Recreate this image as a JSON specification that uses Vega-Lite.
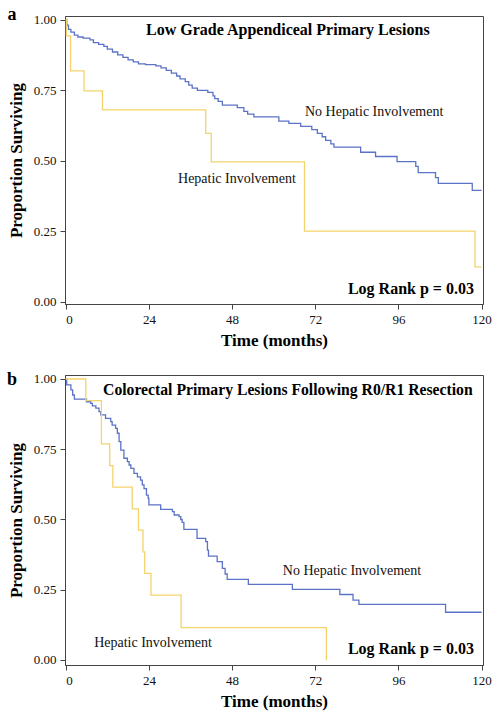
{
  "$schema": "https://vega.github.io/schema/vega-lite/v6.json",
  "padding": {"left": 6, "top": 5, "right": 5, "bottom": 5},
  "background": "white",
  "spacing": 21,
  "config": {
    "font": "Liberation Serif",
    "view": {"stroke": "#444", "strokeWidth": 1},
    "axis": {
      "grid": false,
      "labelFont": "Liberation Serif",
      "labelFontSize": 13,
      "labelColor": "#111",
      "titleFont": "Liberation Serif",
      "titleFontSize": 17,
      "titleFontWeight": "bold",
      "titleColor": "#000",
      "tickSize": 5,
      "tickColor": "#444",
      "domainColor": "#444",
      "labelPadding": 4
    },
    "axisY": {"titlePadding": 8},
    "axisX": {"titlePadding": 6}
  },
  "datasets": {
    "curves": [
      {"panel":"a","group":"No Hepatic Involvement","t":0,"s":1.0},
      {"panel":"a","group":"No Hepatic Involvement","t":0.3,"s":0.98},
      {"panel":"a","group":"No Hepatic Involvement","t":0.8,"s":0.965},
      {"panel":"a","group":"No Hepatic Involvement","t":1.5,"s":0.955},
      {"panel":"a","group":"No Hepatic Involvement","t":2.5,"s":0.945},
      {"panel":"a","group":"No Hepatic Involvement","t":3.5,"s":0.938},
      {"panel":"a","group":"No Hepatic Involvement","t":5,"s":0.934},
      {"panel":"a","group":"No Hepatic Involvement","t":7,"s":0.928},
      {"panel":"a","group":"No Hepatic Involvement","t":8,"s":0.918},
      {"panel":"a","group":"No Hepatic Involvement","t":9.5,"s":0.912},
      {"panel":"a","group":"No Hepatic Involvement","t":11,"s":0.905},
      {"panel":"a","group":"No Hepatic Involvement","t":12,"s":0.895},
      {"panel":"a","group":"No Hepatic Involvement","t":13.5,"s":0.885},
      {"panel":"a","group":"No Hepatic Involvement","t":15,"s":0.875},
      {"panel":"a","group":"No Hepatic Involvement","t":16.5,"s":0.866},
      {"panel":"a","group":"No Hepatic Involvement","t":18,"s":0.857},
      {"panel":"a","group":"No Hepatic Involvement","t":19.5,"s":0.85},
      {"panel":"a","group":"No Hepatic Involvement","t":21,"s":0.843},
      {"panel":"a","group":"No Hepatic Involvement","t":23,"s":0.84},
      {"panel":"a","group":"No Hepatic Involvement","t":26,"s":0.836},
      {"panel":"a","group":"No Hepatic Involvement","t":27.5,"s":0.829},
      {"panel":"a","group":"No Hepatic Involvement","t":29,"s":0.82},
      {"panel":"a","group":"No Hepatic Involvement","t":30.5,"s":0.81},
      {"panel":"a","group":"No Hepatic Involvement","t":32,"s":0.8},
      {"panel":"a","group":"No Hepatic Involvement","t":33,"s":0.79},
      {"panel":"a","group":"No Hepatic Involvement","t":34.5,"s":0.78},
      {"panel":"a","group":"No Hepatic Involvement","t":35.5,"s":0.768},
      {"panel":"a","group":"No Hepatic Involvement","t":36.5,"s":0.757},
      {"panel":"a","group":"No Hepatic Involvement","t":38,"s":0.749},
      {"panel":"a","group":"No Hepatic Involvement","t":41,"s":0.742},
      {"panel":"a","group":"No Hepatic Involvement","t":42.5,"s":0.73},
      {"panel":"a","group":"No Hepatic Involvement","t":43,"s":0.72},
      {"panel":"a","group":"No Hepatic Involvement","t":44,"s":0.71},
      {"panel":"a","group":"No Hepatic Involvement","t":45.2,"s":0.697},
      {"panel":"a","group":"No Hepatic Involvement","t":49.5,"s":0.688},
      {"panel":"a","group":"No Hepatic Involvement","t":51.4,"s":0.675},
      {"panel":"a","group":"No Hepatic Involvement","t":52.5,"s":0.665},
      {"panel":"a","group":"No Hepatic Involvement","t":54.3,"s":0.655},
      {"panel":"a","group":"No Hepatic Involvement","t":61.5,"s":0.64},
      {"panel":"a","group":"No Hepatic Involvement","t":64.4,"s":0.632},
      {"panel":"a","group":"No Hepatic Involvement","t":67.8,"s":0.622},
      {"panel":"a","group":"No Hepatic Involvement","t":71,"s":0.61},
      {"panel":"a","group":"No Hepatic Involvement","t":72.6,"s":0.597},
      {"panel":"a","group":"No Hepatic Involvement","t":74,"s":0.585},
      {"panel":"a","group":"No Hepatic Involvement","t":75,"s":0.572},
      {"panel":"a","group":"No Hepatic Involvement","t":76.5,"s":0.56},
      {"panel":"a","group":"No Hepatic Involvement","t":77.4,"s":0.548},
      {"panel":"a","group":"No Hepatic Involvement","t":85.1,"s":0.53},
      {"panel":"a","group":"No Hepatic Involvement","t":89.4,"s":0.515},
      {"panel":"a","group":"No Hepatic Involvement","t":95.6,"s":0.497},
      {"panel":"a","group":"No Hepatic Involvement","t":101,"s":0.48},
      {"panel":"a","group":"No Hepatic Involvement","t":101.7,"s":0.458},
      {"panel":"a","group":"No Hepatic Involvement","t":106.7,"s":0.44},
      {"panel":"a","group":"No Hepatic Involvement","t":107.5,"s":0.42},
      {"panel":"a","group":"No Hepatic Involvement","t":117.3,"s":0.395},
      {"panel":"a","group":"No Hepatic Involvement","t":120,"s":0.395},
      {"panel":"a","group":"Hepatic Involvement","t":0,"s":1.0},
      {"panel":"a","group":"Hepatic Involvement","t":0.2,"s":0.942},
      {"panel":"a","group":"Hepatic Involvement","t":1.4,"s":0.818},
      {"panel":"a","group":"Hepatic Involvement","t":5.3,"s":0.747},
      {"panel":"a","group":"Hepatic Involvement","t":10.6,"s":0.68},
      {"panel":"a","group":"Hepatic Involvement","t":40.4,"s":0.597},
      {"panel":"a","group":"Hepatic Involvement","t":42,"s":0.496},
      {"panel":"a","group":"Hepatic Involvement","t":68.9,"s":0.251},
      {"panel":"a","group":"Hepatic Involvement","t":118.1,"s":0.124},
      {"panel":"a","group":"Hepatic Involvement","t":120,"s":0.124},
      {"panel":"b","group":"No Hepatic Involvement","t":0,"s":1.0},
      {"panel":"b","group":"No Hepatic Involvement","t":0.3,"s":0.979},
      {"panel":"b","group":"No Hepatic Involvement","t":1.5,"s":0.961},
      {"panel":"b","group":"No Hepatic Involvement","t":2,"s":0.943},
      {"panel":"b","group":"No Hepatic Involvement","t":2.5,"s":0.928},
      {"panel":"b","group":"No Hepatic Involvement","t":6,"s":0.919},
      {"panel":"b","group":"No Hepatic Involvement","t":7.2,"s":0.913},
      {"panel":"b","group":"No Hepatic Involvement","t":7.7,"s":0.904},
      {"panel":"b","group":"No Hepatic Involvement","t":8.7,"s":0.896},
      {"panel":"b","group":"No Hepatic Involvement","t":9.6,"s":0.884},
      {"panel":"b","group":"No Hepatic Involvement","t":10.1,"s":0.872},
      {"panel":"b","group":"No Hepatic Involvement","t":11.5,"s":0.86},
      {"panel":"b","group":"No Hepatic Involvement","t":13,"s":0.848},
      {"panel":"b","group":"No Hepatic Involvement","t":13.4,"s":0.836},
      {"panel":"b","group":"No Hepatic Involvement","t":14.4,"s":0.824},
      {"panel":"b","group":"No Hepatic Involvement","t":14.9,"s":0.807},
      {"panel":"b","group":"No Hepatic Involvement","t":15.4,"s":0.777},
      {"panel":"b","group":"No Hepatic Involvement","t":15.9,"s":0.747},
      {"panel":"b","group":"No Hepatic Involvement","t":16.8,"s":0.718},
      {"panel":"b","group":"No Hepatic Involvement","t":17.8,"s":0.706},
      {"panel":"b","group":"No Hepatic Involvement","t":18.3,"s":0.694},
      {"panel":"b","group":"No Hepatic Involvement","t":18.8,"s":0.682},
      {"panel":"b","group":"No Hepatic Involvement","t":19.7,"s":0.664},
      {"panel":"b","group":"No Hepatic Involvement","t":20.7,"s":0.652},
      {"panel":"b","group":"No Hepatic Involvement","t":21.6,"s":0.64},
      {"panel":"b","group":"No Hepatic Involvement","t":22.1,"s":0.623},
      {"panel":"b","group":"No Hepatic Involvement","t":22.6,"s":0.61},
      {"panel":"b","group":"No Hepatic Involvement","t":23.3,"s":0.587},
      {"panel":"b","group":"No Hepatic Involvement","t":23.8,"s":0.575},
      {"panel":"b","group":"No Hepatic Involvement","t":24,"s":0.552},
      {"panel":"b","group":"No Hepatic Involvement","t":27.4,"s":0.536},
      {"panel":"b","group":"No Hepatic Involvement","t":30.8,"s":0.528},
      {"panel":"b","group":"No Hepatic Involvement","t":31.3,"s":0.516},
      {"panel":"b","group":"No Hepatic Involvement","t":32.7,"s":0.51},
      {"panel":"b","group":"No Hepatic Involvement","t":33.2,"s":0.5},
      {"panel":"b","group":"No Hepatic Involvement","t":33.6,"s":0.49},
      {"panel":"b","group":"No Hepatic Involvement","t":34.1,"s":0.465},
      {"panel":"b","group":"No Hepatic Involvement","t":37.9,"s":0.433},
      {"panel":"b","group":"No Hepatic Involvement","t":40.4,"s":0.421},
      {"panel":"b","group":"No Hepatic Involvement","t":40.9,"s":0.391},
      {"panel":"b","group":"No Hepatic Involvement","t":41.2,"s":0.37},
      {"panel":"b","group":"No Hepatic Involvement","t":43.7,"s":0.35},
      {"panel":"b","group":"No Hepatic Involvement","t":45.2,"s":0.326},
      {"panel":"b","group":"No Hepatic Involvement","t":46,"s":0.306},
      {"panel":"b","group":"No Hepatic Involvement","t":46.6,"s":0.287},
      {"panel":"b","group":"No Hepatic Involvement","t":52.7,"s":0.269},
      {"panel":"b","group":"No Hepatic Involvement","t":65.4,"s":0.251},
      {"panel":"b","group":"No Hepatic Involvement","t":79.1,"s":0.233},
      {"panel":"b","group":"No Hepatic Involvement","t":82.9,"s":0.213},
      {"panel":"b","group":"No Hepatic Involvement","t":84.6,"s":0.198},
      {"panel":"b","group":"No Hepatic Involvement","t":109.6,"s":0.17},
      {"panel":"b","group":"No Hepatic Involvement","t":120,"s":0.17},
      {"panel":"b","group":"Hepatic Involvement","t":0,"s":1.0},
      {"panel":"b","group":"Hepatic Involvement","t":5.8,"s":0.923},
      {"panel":"b","group":"Hepatic Involvement","t":10.3,"s":0.769},
      {"panel":"b","group":"Hepatic Involvement","t":12.7,"s":0.692},
      {"panel":"b","group":"Hepatic Involvement","t":13.6,"s":0.615},
      {"panel":"b","group":"Hepatic Involvement","t":19.2,"s":0.538},
      {"panel":"b","group":"Hepatic Involvement","t":21,"s":0.462},
      {"panel":"b","group":"Hepatic Involvement","t":22.3,"s":0.385},
      {"panel":"b","group":"Hepatic Involvement","t":22.8,"s":0.308},
      {"panel":"b","group":"Hepatic Involvement","t":24.6,"s":0.231},
      {"panel":"b","group":"Hepatic Involvement","t":33.3,"s":0.115},
      {"panel":"b","group":"Hepatic Involvement","t":75.2,"s":0.0}
    ],
    "notes": [
      {"panel":"a","kind":"head","label":"Low Grade Appendiceal Primary Lesions","t":64.1,"s":0.945},
      {"panel":"a","kind":"group","label":"No Hepatic Involvement","t":89.0,"s":0.658},
      {"panel":"a","kind":"group","label":"Hepatic Involvement","t":49.4,"s":0.422},
      {"panel":"a","kind":"test","label":"Log Rank p = 0.03","t":117.8,"s":0.027},
      {"panel":"a","kind":"letter","label":"a","t":-15.5,"s":1.0},
      {"panel":"b","kind":"head","label":"Colorectal Primary Lesions Following R0/R1 Resection","t":64.1,"s":0.943},
      {"panel":"b","kind":"group","label":"No Hepatic Involvement","t":82.6,"s":0.3025},
      {"panel":"b","kind":"group","label":"Hepatic Involvement","t":25.2,"s":0.047},
      {"panel":"b","kind":"test","label":"Log Rank p = 0.03","t":117.8,"s":0.021},
      {"panel":"b","kind":"letter","label":"b","t":-15.5,"s":0.979}
    ]
  },
  "vconcat": [
    {
      "width": 418,
      "height": 288,
      "encoding": {
        "x": {"field": "t", "type": "quantitative", "scale": {"domain": [-0.2, 120.4], "nice": false, "zero": false},
              "axis": {"values": [0, 24, 48, 72, 96, 120], "title": "Time (months)"}},
        "y": {"field": "s", "type": "quantitative", "scale": {"domain": [-0.0071, 1.0124], "nice": false, "zero": false},
              "axis": {"values": [0, 0.25, 0.5, 0.75, 1], "format": ".2f", "title": "Proportion Surviving"}}
      },
      "layer": [
        {
          "data": {"name": "curves"},
          "transform": [{"filter": "datum.panel === 'a'"}],
          "mark": {"type": "line", "interpolate": "step-after", "strokeWidth": 1.3},
          "encoding": {
            "color": {"field": "group", "type": "nominal", "legend": null,
                      "scale": {"domain": ["No Hepatic Involvement", "Hepatic Involvement"], "range": ["#5B73C6", "#F4D36B"]}}
          }
        },
        {
          "data": {"name": "notes"},
          "transform": [{"filter": "datum.panel === 'a' && datum.kind === 'head'"}],
          "mark": {"type": "text", "font": "Liberation Serif", "fontSize": 16, "fontWeight": "bold", "align": "center", "baseline": "alphabetic", "color": "#000"},
          "encoding": {"text": {"field": "label"}}
        },
        {
          "data": {"name": "notes"},
          "transform": [{"filter": "datum.panel === 'a' && datum.kind === 'group'"}],
          "mark": {"type": "text", "font": "Liberation Serif", "fontSize": 14, "align": "center", "baseline": "alphabetic", "color": "#111"},
          "encoding": {"text": {"field": "label"}}
        },
        {
          "data": {"name": "notes"},
          "transform": [{"filter": "datum.panel === 'a' && datum.kind === 'test'"}],
          "mark": {"type": "text", "font": "Liberation Serif", "fontSize": 16, "fontWeight": "bold", "align": "right", "baseline": "alphabetic", "color": "#000"},
          "encoding": {"text": {"field": "label"}}
        },
        {
          "data": {"name": "notes"},
          "transform": [{"filter": "datum.panel === 'a' && datum.kind === 'letter'"}],
          "mark": {"type": "text", "font": "Liberation Serif", "fontSize": 18, "fontWeight": "bold", "align": "center", "baseline": "alphabetic", "color": "#000"},
          "encoding": {"text": {"field": "label"}}
        }
      ]
    },
    {
      "width": 418,
      "height": 290,
      "encoding": {
        "x": {"field": "t", "type": "quantitative", "scale": {"domain": [-0.2, 120.4], "nice": false, "zero": false},
              "axis": {"values": [0, 24, 48, 72, 96, 120], "title": "Time (months)"}},
        "y": {"field": "s", "type": "quantitative", "scale": {"domain": [-0.0178, 1.0142], "nice": false, "zero": false},
              "axis": {"values": [0, 0.25, 0.5, 0.75, 1], "format": ".2f", "title": "Proportion Surviving"}}
      },
      "layer": [
        {
          "data": {"name": "curves"},
          "transform": [{"filter": "datum.panel === 'b'"}],
          "mark": {"type": "line", "interpolate": "step-after", "strokeWidth": 1.3},
          "encoding": {
            "color": {"field": "group", "type": "nominal", "legend": null,
                      "scale": {"domain": ["No Hepatic Involvement", "Hepatic Involvement"], "range": ["#5B73C6", "#F4D36B"]}}
          }
        },
        {
          "data": {"name": "notes"},
          "transform": [{"filter": "datum.panel === 'b' && datum.kind === 'head'"}],
          "mark": {"type": "text", "font": "Liberation Serif", "fontSize": 15.7, "fontWeight": "bold", "align": "center", "baseline": "alphabetic", "color": "#000"},
          "encoding": {"text": {"field": "label"}}
        },
        {
          "data": {"name": "notes"},
          "transform": [{"filter": "datum.panel === 'b' && datum.kind === 'group'"}],
          "mark": {"type": "text", "font": "Liberation Serif", "fontSize": 14, "align": "center", "baseline": "alphabetic", "color": "#111"},
          "encoding": {"text": {"field": "label"}}
        },
        {
          "data": {"name": "notes"},
          "transform": [{"filter": "datum.panel === 'b' && datum.kind === 'test'"}],
          "mark": {"type": "text", "font": "Liberation Serif", "fontSize": 16, "fontWeight": "bold", "align": "right", "baseline": "alphabetic", "color": "#000"},
          "encoding": {"text": {"field": "label"}}
        },
        {
          "data": {"name": "notes"},
          "transform": [{"filter": "datum.panel === 'b' && datum.kind === 'letter'"}],
          "mark": {"type": "text", "font": "Liberation Serif", "fontSize": 18, "fontWeight": "bold", "align": "center", "baseline": "alphabetic", "color": "#000"},
          "encoding": {"text": {"field": "label"}}
        }
      ]
    }
  ]
}
